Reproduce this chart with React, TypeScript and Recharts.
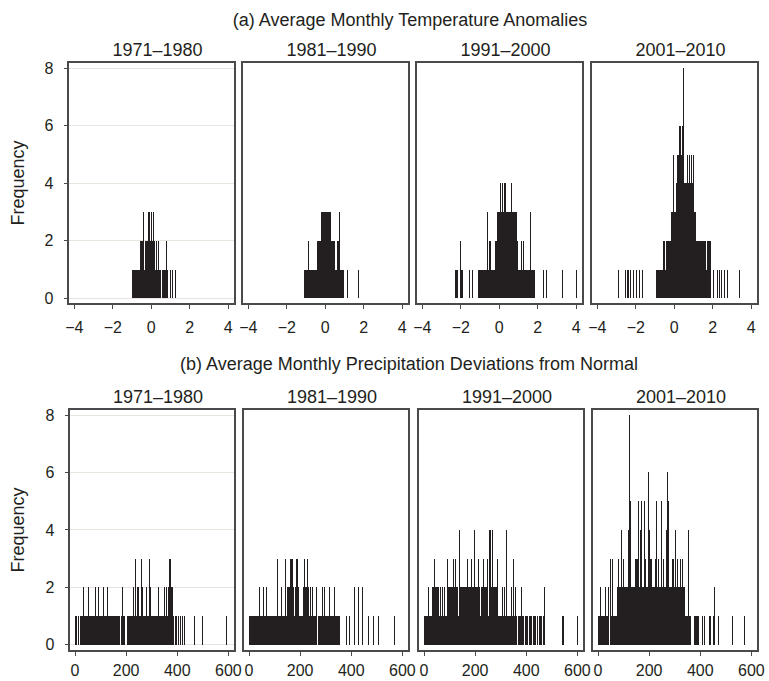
import React from 'react';
import { ScatterChart, Scatter, XAxis, YAxis, CartesianGrid, ErrorBar, ReferenceArea } from 'recharts';

// ---------- data ----------
const decades = ['1971–1980', '1981–1990', '1991–2000', '2001–2010'];
const titleA = '(a) Average Monthly Temperature Anomalies';
const titleB = '(b) Average Monthly Precipitation Deviations from Normal';
const yLabel = 'Frequency';
const freqTicks = [0, 2, 4, 6, 8];
const tempTicks = [-4, -2, 0, 2, 4];
const precipTicks = [0, 200, 400, 600];

// temperature anomaly values [value, frequency]
const temp1971: [number, number][] = [
  [-0.98, 1], [-0.94, 1], [-0.9, 1], [-0.86, 1], [-0.82, 1], [-0.78, 1], [-0.74, 1], [-0.7, 1], [-0.66, 1], [-0.62, 1], [-0.58, 1],
  [-0.54, 2], [-0.5, 2], [-0.46, 2], [-0.42, 3], [-0.38, 2], [-0.34, 1], [-0.3, 2], [-0.26, 2], [-0.22, 2], [-0.18, 2], [-0.15, 3],
  [-0.11, 2], [-0.08, 3], [-0.04, 2], [-0.01, 2], [0.02, 3], [0.06, 2], [0.09, 3], [0.13, 2], [0.17, 2], [0.21, 1], [0.25, 2],
  [0.29, 2], [0.33, 1], [0.36, 2], [0.4, 1], [0.44, 1], [0.48, 1], [0.56, 1], [0.61, 1], [0.71, 1], [0.76, 1], [0.8, 2], [0.85, 1],
  [1.0, 1], [1.12, 1], [1.26, 1],
];
const temp1981: [number, number][] = [
  [-1.07, 1], [-1.03, 1], [-0.99, 1], [-0.91, 1], [-0.87, 1], [-0.85, 2], [-0.8, 1], [-0.76, 1], [-0.72, 1], [-0.68, 1], [-0.6, 1],
  [-0.56, 1], [-0.52, 1], [-0.48, 1], [-0.44, 1], [-0.41, 2], [-0.37, 2], [-0.33, 2], [-0.29, 2], [-0.25, 2], [-0.22, 2], [-0.19, 3],
  [-0.15, 3], [-0.11, 3], [-0.07, 2], [-0.04, 3], [0, 3], [0.04, 3], [0.08, 2], [0.12, 3], [0.16, 3], [0.2, 3], [0.24, 3], [0.28, 3],
  [0.32, 2], [0.36, 2], [0.4, 2], [0.44, 2], [0.49, 2], [0.53, 1], [0.57, 1], [0.61, 2], [0.65, 1], [0.7, 2], [0.75, 3], [0.8, 1],
  [0.84, 1], [0.88, 1], [0.92, 1], [0.96, 1], [1.13, 1], [1.7, 1],
];
const temp1991: [number, number][] = [
  [-2.27, 1], [-2.2, 1], [-2.15, 1], [-2.03, 2], [-1.97, 1], [-1.92, 1], [-1.53, 1], [-1.39, 1],
  [-1.09, 1], [-1.05, 1], [-1.01, 1], [-0.97, 1], [-0.93, 1], [-0.89, 1], [-0.85, 1], [-0.81, 1], [-0.77, 1], [-0.73, 1], [-0.69, 1],
  [-0.65, 1], [-0.61, 3], [-0.57, 1], [-0.53, 2], [-0.49, 2], [-0.45, 2], [-0.41, 1], [-0.37, 1], [-0.33, 1], [-0.29, 1], [-0.25, 1],
  [-0.21, 2], [-0.17, 2], [-0.13, 2], [-0.09, 3], [-0.05, 3], [-0.01, 3], [0.03, 3], [0.08, 4], [0.12, 3], [0.17, 4], [0.21, 3],
  [0.26, 4], [0.3, 3], [0.34, 4], [0.38, 3], [0.42, 3], [0.46, 3], [0.5, 3], [0.54, 3], [0.58, 3], [0.62, 3], [0.65, 4], [0.69, 3],
  [0.73, 3], [0.77, 3], [0.81, 3], [0.85, 3], [0.9, 3], [0.95, 2], [0.99, 1], [1.03, 1], [1.07, 1], [1.11, 1], [1.16, 2], [1.2, 1],
  [1.27, 2], [1.31, 1], [1.35, 1], [1.4, 1], [1.44, 1], [1.48, 1], [1.52, 1], [1.56, 1], [1.6, 1], [1.64, 3], [1.68, 1], [1.72, 1],
  [1.77, 1], [1.81, 1], [1.85, 1], [2.29, 1], [2.45, 1], [3.28, 1], [4.0, 1],
];
const temp2001: [number, number][] = [
  [-2.91, 1], [-2.53, 1], [-2.45, 1], [-2.39, 1], [-2.3, 1], [-2.13, 1], [-1.95, 1], [-1.82, 1], [-1.64, 1],
  [-0.91, 1], [-0.87, 1], [-0.83, 1], [-0.79, 1], [-0.75, 1], [-0.71, 1], [-0.67, 1], [-0.63, 1], [-0.6, 1],
  [-0.57, 2], [-0.53, 2], [-0.49, 2], [-0.45, 1], [-0.41, 2], [-0.37, 2], [-0.33, 1], [-0.29, 2], [-0.25, 2], [-0.21, 2], [-0.17, 2],
  [-0.14, 3], [-0.1, 3], [-0.05, 5], [-0.01, 3], [0.03, 3], [0.07, 3], [0.1, 4], [0.14, 4], [0.18, 5], [0.22, 5], [0.26, 6],
  [0.3, 5], [0.33, 6], [0.36, 5], [0.4, 6], [0.44, 5], [0.47, 6], [0.5, 8], [0.54, 4], [0.58, 4], [0.62, 4], [0.66, 4], [0.7, 5],
  [0.74, 4], [0.78, 5], [0.82, 4], [0.86, 4], [0.9, 5], [0.94, 4], [0.99, 5], [1.03, 3], [1.07, 3], [1.11, 3], [1.15, 2], [1.19, 2],
  [1.23, 2], [1.27, 2], [1.31, 2], [1.35, 2], [1.39, 2], [1.43, 1], [1.47, 2], [1.51, 2], [1.55, 2], [1.59, 2], [1.63, 2], [1.67, 1],
  [1.71, 2], [1.75, 2], [1.79, 2], [1.83, 2], [1.86, 2], [2.03, 1], [2.23, 1], [2.34, 1], [2.46, 1], [2.63, 1], [2.75, 1], [3.38, 1],
];

// precipitation deviation values (mm) [value, frequency]
const prec1971: [number, number][] = [
  [1, 1], [7, 1], [14, 1], [20, 1], [24, 1], [27, 1], [31, 1], [34, 2], [38, 1], [41, 1], [45, 1], [49, 1], [53, 2], [56, 1], [60, 1],
  [64, 1], [67, 1], [71, 1], [74, 1], [78, 1], [81, 2], [85, 1], [89, 1], [93, 2], [96, 1], [100, 1], [103, 1], [106, 1], [110, 2],
  [114, 1], [117, 1], [121, 1], [125, 1], [129, 2], [132, 1], [136, 1], [140, 1], [143, 1], [147, 1], [151, 1], [154, 1], [158, 1],
  [162, 1], [165, 1], [169, 1], [173, 1], [176, 1], [180, 1], [184, 2], [188, 1], [192, 1], [207, 1], [211, 1], [215, 1], [218, 1],
  [222, 1], [226, 1], [230, 2], [233, 1], [237, 3], [240, 1], [243, 2], [247, 1], [250, 2], [254, 1], [258, 1], [260, 3], [263, 2],
  [266, 1], [269, 1], [273, 1], [276, 1], [279, 2], [283, 1], [287, 1], [290, 3], [292, 1], [295, 2], [299, 1], [302, 1], [306, 1],
  [310, 1], [313, 1], [317, 1], [321, 1], [324, 1], [327, 2], [331, 1], [335, 1], [339, 1], [342, 1], [346, 1], [351, 2], [355, 1],
  [359, 2], [363, 1], [367, 2], [371, 3], [374, 3], [377, 2], [380, 1], [383, 2], [387, 1], [393, 1], [399, 1], [406, 1], [412, 1],
  [419, 1], [429, 1], [468, 1], [497, 1], [592, 1],
];
const prec1981: [number, number][] = [
  [1, 1], [4, 1], [8, 1], [12, 1], [15, 1], [19, 1], [22, 1], [26, 1], [30, 1], [34, 1], [38, 1], [42, 2], [45, 1], [49, 1], [53, 1],
  [57, 2], [61, 1], [64, 1], [68, 2], [72, 1], [76, 1], [80, 1], [84, 1], [87, 1], [91, 1], [95, 1], [99, 1], [103, 1], [107, 1],
  [112, 3], [115, 1], [119, 1], [123, 1], [126, 2], [130, 1], [134, 1], [138, 1], [142, 3], [146, 1], [149, 2], [153, 2], [157, 2],
  [160, 2], [164, 3], [168, 3], [172, 3], [175, 2], [179, 1], [181, 2], [185, 3], [188, 2], [190, 3], [194, 2], [198, 1], [202, 1],
  [206, 1], [210, 1], [214, 2], [218, 3], [221, 2], [225, 2], [229, 3], [233, 2], [236, 1], [240, 2], [244, 1], [249, 2], [252, 1],
  [256, 1], [259, 1], [263, 1], [266, 2], [270, 1], [274, 1], [277, 1], [281, 1], [284, 1], [288, 2], [292, 1], [296, 2], [300, 1],
  [303, 1], [307, 1], [310, 1], [314, 2], [318, 1], [322, 1], [326, 1], [329, 1], [335, 2], [339, 1], [343, 1], [347, 1], [351, 1],
  [355, 1], [380, 1], [392, 1], [412, 2], [429, 2], [445, 2], [468, 1], [488, 1], [505, 1], [569, 1],
];
const prec1991: [number, number][] = [
  [3, 1], [6, 1], [10, 1], [13, 1], [16, 1], [19, 2], [23, 1], [26, 1], [30, 1], [33, 1], [35, 2], [38, 2], [42, 3], [45, 2], [49, 2],
  [52, 2], [55, 2], [59, 1], [62, 1], [64, 2], [67, 1], [71, 1], [74, 2], [78, 1], [81, 2], [85, 1], [88, 1], [90, 3], [94, 2],
  [97, 2], [101, 2], [104, 2], [108, 2], [111, 2], [116, 3], [119, 2], [122, 3], [126, 2], [129, 1], [133, 2], [136, 1], [139, 4],
  [143, 2], [146, 2], [150, 2], [153, 2], [157, 2], [160, 2], [164, 2], [168, 2], [172, 3], [175, 2], [179, 2], [182, 2], [185, 3],
  [189, 2], [192, 2], [195, 2], [198, 4], [202, 2], [205, 2], [209, 2], [214, 3], [218, 2], [221, 1], [224, 2], [228, 2], [231, 3],
  [235, 2], [238, 2], [241, 2], [244, 2], [248, 3], [250, 2], [254, 1], [257, 4], [261, 4], [264, 2], [267, 4], [271, 2], [274, 2],
  [277, 2], [280, 2], [283, 2], [286, 1], [289, 3], [293, 1], [296, 1], [299, 1], [302, 1], [306, 1], [309, 2], [312, 1], [316, 2],
  [319, 1], [322, 4], [326, 1], [330, 1], [334, 1], [338, 1], [341, 2], [346, 1], [351, 3], [355, 1], [359, 2], [363, 1], [368, 1],
  [373, 1], [377, 1], [381, 2], [386, 1], [391, 1], [396, 1], [401, 1], [406, 1], [411, 1], [416, 1], [421, 1], [427, 1], [433, 1],
  [438, 1], [444, 1], [450, 1], [456, 1], [461, 1], [466, 1], [472, 2], [540, 1], [546, 1], [600, 1],
];
const prec2001: [number, number][] = [
  [0, 1], [3, 1], [6, 1], [10, 2], [13, 1], [17, 1], [20, 1], [24, 1], [27, 1], [30, 2], [34, 1], [37, 1], [40, 1], [43, 2], [47, 3],
  [50, 2], [53, 1], [56, 3], [60, 1], [63, 1], [67, 1], [70, 1], [73, 1], [76, 2], [79, 2], [82, 3], [86, 2], [89, 2], [93, 4],
  [96, 2], [98, 3], [102, 2], [105, 2], [109, 2], [112, 2], [116, 2], [119, 4], [122, 2], [125, 8], [129, 5], [132, 2], [135, 2],
  [139, 2], [143, 2], [147, 3], [150, 3], [154, 3], [158, 5], [161, 2], [165, 4], [168, 3], [171, 5], [175, 2], [178, 2], [182, 5],
  [185, 3], [189, 2], [192, 2], [196, 6], [200, 4], [204, 3], [207, 2], [210, 3], [214, 2], [217, 2], [220, 2], [223, 3], [226, 2],
  [229, 5], [233, 2], [236, 3], [240, 2], [243, 2], [246, 2], [250, 5], [254, 2], [258, 3], [261, 2], [265, 2], [268, 4], [272, 6],
  [275, 2], [277, 5], [281, 2], [284, 2], [288, 2], [291, 3], [294, 2], [297, 3], [301, 2], [304, 4], [307, 2], [310, 3], [314, 2],
  [317, 2], [321, 3], [324, 2], [327, 2], [330, 3], [334, 2], [337, 2], [341, 1], [344, 1], [348, 1], [351, 1], [356, 4], [359, 1],
  [363, 1], [378, 1], [382, 1], [386, 1], [390, 1], [395, 1], [408, 1], [417, 1], [438, 1], [441, 1], [451, 1], [454, 2], [471, 1],
  [526, 1], [574, 1],
];

const tempSeries = [temp1971, temp1981, temp1991, temp2001];
const precSeries = [prec1971, prec1981, prec1991, prec2001];

// ---------- layout / style ----------
const FONT = '"Liberation Sans", Arial, Helvetica, sans-serif';
const INK = '#231f20';
const FRAME = '#4a4a4a';
const GRID = '#e9e4de';
const TICK_FS = 16;
const PLOT_H = 242;
const X_AXIS_H = 34;
const Y_AXIS_W = 40;
const TOP_T = 62;
const BOT_T = 409;
const topLefts = [68, 242, 416, 591];
const botLefts = [69, 243, 418, 592];
const TOP_W = 167;
const BOT_W = 166;
const tempDomain: [number, number] = [-4.33, 4.35];
const precDomain: [number, number] = [-23.5, 626];
const yDomTop: [number, number] = [-0.2, 8.22];
const yDomBot: [number, number] = [-0.22, 8.21];

const fmtTick = (v: number) => (v < 0 ? `\u2212${Math.abs(v)}` : String(v));
const spikeErr = (d: any) => {
  const e = d && d.payload ? d.payload : d;
  return [e.f, 0];
};
const NoDot = () => <g />;

type PanelProps = {
  pairs: [number, number][];
  left: number;
  top: number;
  width: number;
  xDomain: [number, number];
  yDomain: [number, number];
  xTicks: number[];
  showY: boolean;
  xTickMargin: number;
};

function Panel({ pairs, left, top, width, xDomain, yDomain, xTicks, showY, xTickMargin }: PanelProps) {
  const rows = pairs.map(([v, f]) => ({ v, f }));
  const yw = showY ? Y_AXIS_W : 0;
  return (
    <div style={{ position: 'absolute', left: left - 1 - yw, top: top - 1 }}>
      <ScatterChart
        width={width + 2 + yw}
        height={PLOT_H + 1 + X_AXIS_H}
        margin={{ top: 1, right: 1, bottom: 0, left: 1 }}
        style={{ overflow: 'visible' }}
      >
        <CartesianGrid vertical={false} stroke={GRID} strokeWidth={1} />
        <XAxis
          type="number"
          dataKey="v"
          domain={xDomain}
          ticks={xTicks}
          allowDataOverflow
          interval={0}
          height={X_AXIS_H}
          axisLine={false}
          tickSize={5}
          tickMargin={xTickMargin}
          tickLine={{ stroke: FRAME }}
          fontSize={TICK_FS}
          tick={{ fontSize: TICK_FS, fill: INK }}
          tickFormatter={fmtTick}
        />
        <YAxis
          type="number"
          dataKey="f"
          domain={yDomain}
          ticks={freqTicks}
          allowDataOverflow
          interval={0}
          width={yw}
          axisLine={false}
          tickSize={showY ? 4.5 : 0}
          tickMargin={10}
          fontSize={TICK_FS}
          tickLine={showY ? { stroke: FRAME } : false}
          tick={showY ? { fontSize: TICK_FS, fill: INK } : false}
        />
        <ReferenceArea
          x1={xDomain[0]}
          x2={xDomain[1]}
          y1={yDomain[0]}
          y2={yDomain[1]}
          fill="none"
          fillOpacity={0}
          stroke={FRAME}
          strokeWidth={1.2}
          ifOverflow="visible"
        />
        <Scatter data={rows} shape={NoDot} isAnimationActive={false}>
          <ErrorBar
            dataKey={spikeErr}
            direction="y"
            width={0}
            stroke={INK}
            strokeWidth={1}
            isAnimationActive={false}
          />
        </Scatter>
      </ScatterChart>
    </div>
  );
}

export default function App() {
  return (
    <div
      style={{
        position: 'absolute',
        left: 0,
        top: 0,
        width: 769,
        height: 681,
        overflow: 'hidden',
        background: '#ffffff',
        fontFamily: FONT,
        shapeRendering: 'crispEdges',
      }}
    >
      <style>{'.recharts-surface, .recharts-wrapper { overflow: visible !important; }'}</style>
      {tempSeries.map((pairs, i) => (
        <Panel
          key={`t${i}`}
          pairs={pairs}
          left={topLefts[i]}
          top={TOP_T}
          width={TOP_W}
          xDomain={tempDomain}
          yDomain={yDomTop}
          xTicks={tempTicks}
          showY={i === 0}
          xTickMargin={13}
        />
      ))}
      {precSeries.map((pairs, i) => (
        <Panel
          key={`p${i}`}
          pairs={pairs}
          left={botLefts[i]}
          top={BOT_T}
          width={BOT_W}
          xDomain={precDomain}
          yDomain={yDomBot}
          xTicks={precipTicks}
          showY={i === 0}
          xTickMargin={9}
        />
      ))}
      <svg
        width={769}
        height={681}
        style={{ position: 'absolute', left: 0, top: 0, pointerEvents: 'none' }}
        fontFamily={FONT}
      >
        <text x={410} y={26} textAnchor="middle" fontSize={18} fill={INK}>{titleA}</text>
        <text x={409} y={369.5} textAnchor="middle" fontSize={18} fill={INK}>{titleB}</text>
        {decades.map((d, i) => (
          <text key={`ta${i}`} x={topLefts[i] + TOP_W / 2 + 6} y={55.5} textAnchor="middle" fontSize={18} fill={INK}>{d}</text>
        ))}
        {decades.map((d, i) => (
          <text key={`tb${i}`} x={botLefts[i] + BOT_W / 2 + 6} y={403} textAnchor="middle" fontSize={18} fill={INK}>{d}</text>
        ))}
        <text x={0} y={0} transform={`translate(23.5 ${TOP_T + PLOT_H / 2}) rotate(-90)`} textAnchor="middle" fontSize={18} fill={INK}>{yLabel}</text>
        <text x={0} y={0} transform={`translate(23.5 ${BOT_T + PLOT_H / 2}) rotate(-90)`} textAnchor="middle" fontSize={18} fill={INK}>{yLabel}</text>
      </svg>
    </div>
  );
}
